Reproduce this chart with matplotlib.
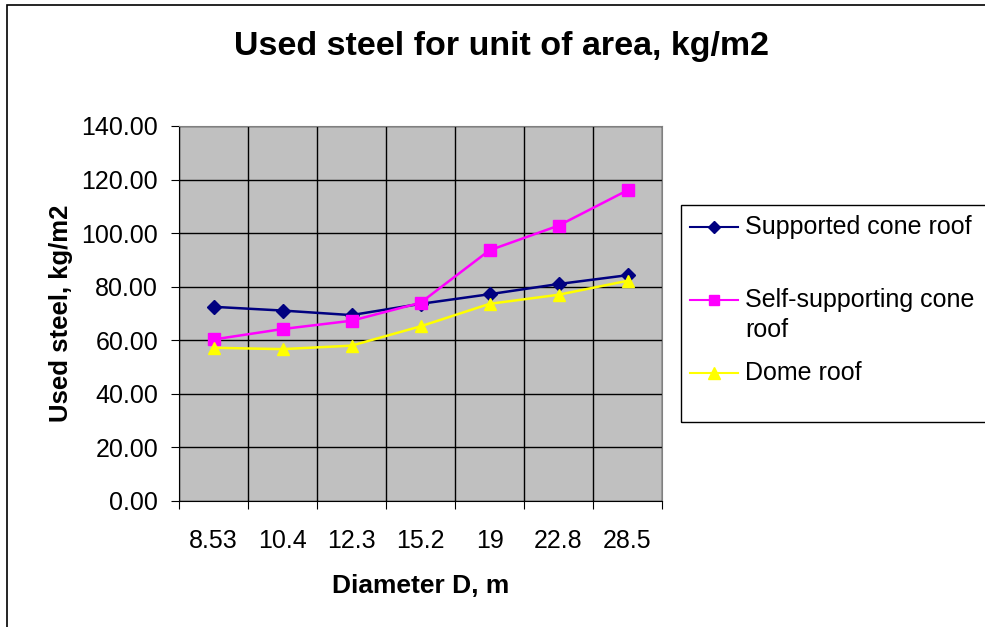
import numpy as np
from matplotlib import pyplot as plt
from matplotlib.patches import Rectangle
from matplotlib.lines import Line2D

# data
diameters = ["8.53", "10.4", "12.3", "15.2", "19", "22.8", "28.5"]
supported_cone = [72.5, 71.1, 69.4, 73.6, 77.2, 81.0, 84.3]
self_supporting_cone = [60.3, 64.2, 67.3, 74.0, 93.6, 102.8, 116.0]
dome = [57.2, 56.7, 58.0, 65.2, 73.6, 77.0, 82.2]
series_names = ["Supported cone roof", "Self-supporting cone\nroof", "Dome roof"]

plt.rcParams['font.family'] = ['Liberation Sans', 'DejaVu Sans']

W, H = 985, 627
fig = plt.figure(figsize=(W / 100, H / 100), dpi=100)
ax = fig.add_axes([179 / W, 126 / H, 483 / W, 375 / H])
ax.set_facecolor("#C0C0C0")

styles = [dict(color="#000080", marker="D", ms=7),
          dict(color="#FF00FF", marker="s", ms=8),
          dict(color="#FFFF00", marker="^", ms=9)]

x = np.arange(len(diameters)) + 0.5
for vals, st in zip([supported_cone, self_supporting_cone, dome], styles):
    ax.plot(x, vals, lw=1.8, zorder=3, **st)

ax.set_xlim(0, len(diameters))
ax.set_ylim(0, 140)
ax.set_yticks(np.arange(0, 141, 20))
ax.set_yticklabels([f"{v:.2f}" for v in np.arange(0, 141, 20)])
ax.set_xticks(np.arange(0, len(diameters) + 1))
ax.set_xticklabels([])
ax.set_xticks(x, minor=True)
ax.set_xticklabels(diameters, minor=True)
ax.tick_params(axis="x", which="minor", length=0, pad=20, labelsize=18)
ax.tick_params(axis="x", which="major", length=6, direction="out", color="black")
ax.tick_params(axis="y", length=6, direction="out", labelsize=18, pad=9)
ax.grid(True, which="major", color="black", lw=1)
ax.set_axisbelow(True)
for s in ["top", "right"]:
    ax.spines[s].set_color("#808080")
for s in ["left", "bottom"]:
    ax.spines[s].set_color("black")

ax.set_ylabel("Used steel, kg/m2", fontsize=18.5, fontweight="bold", labelpad=6)
ax.set_xlabel("Diameter D, m", fontsize=19, fontweight="bold", labelpad=15)
fig.text(502 / W, 1 - 47 / H, "Used steel for unit of area, kg/m2",
         ha="center", va="center", fontsize=24.5, fontweight="bold")

# legend drawn by hand (Excel-like uneven spacing)
fig.patches.append(Rectangle((681 / W, 1 - 422 / H), 320 / W, 217 / H,
                             transform=fig.transFigure, fill=False,
                             edgecolor="black", lw=1))
for name, st, yp in zip(series_names, styles, [227, 300, 373]):
    fy = 1 - yp / H
    fig.lines.append(Line2D([690 / W, 738 / W], [fy, fy], lw=1.5,
                            transform=fig.transFigure, color=st["color"]))
    fig.lines.append(Line2D([714 / W], [fy], transform=fig.transFigure,
                            color=st["color"], marker=st["marker"],
                            ms=st["ms"] - 1, lw=0))
    for i, part in enumerate(name.split("\n")):
        fig.text(745 / W, 1 - (yp + 30 * i) / H, part, fontsize=18,
                 ha="left", va="center")

# outer chart border
fig.patches.append(Rectangle((7 / W, -0.01), 1.2, 1 - 5 / H + 0.01,
                             transform=fig.transFigure, fill=False,
                             edgecolor="black", lw=1.2))

plt.savefig("out.png", dpi=100)
